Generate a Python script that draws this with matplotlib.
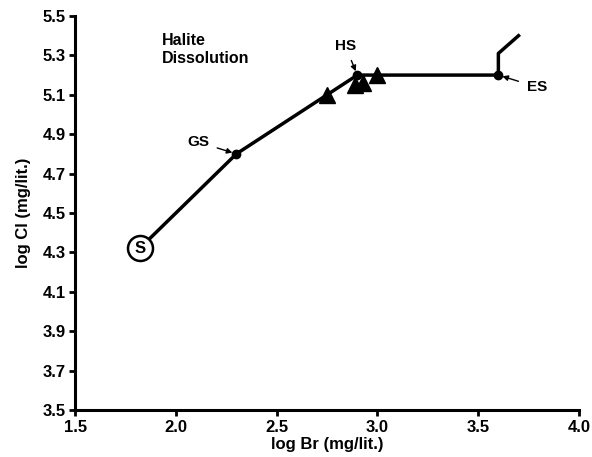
import matplotlib.pyplot as plt

plt.rcParams['font.family'] = ['Liberation Sans', 'DejaVu Sans']
plt.rcParams['font.weight'] = 'bold'
plt.rcParams['axes.labelweight'] = 'bold'

# evolution path of log Br vs log Cl
path_br = [1.82, 2.30, 2.90, 3.60, 3.60, 3.70]
path_cl = [4.32, 4.80, 5.20, 5.20, 5.31, 5.40]

# named stage points
stage_names = ['GS', 'HS', 'ES']
stage_br = [2.30, 2.90, 3.60]
stage_cl = [4.80, 5.20, 5.20]
label_br = [2.11, 2.84, 3.79]
label_cl = [4.86, 5.35, 5.14]

# samples (triangles)
sample_br = [2.75, 2.89, 2.93, 3.00]
sample_cl = [5.10, 5.15, 5.16, 5.20]

start_br, start_cl = 1.82, 4.32

xticks = [1.5, 2.0, 2.5, 3.0, 3.5, 4.0]
yticks = [3.5, 3.7, 3.9, 4.1, 4.3, 4.5, 4.7, 4.9, 5.1, 5.3, 5.5]

fig = plt.figure(figsize=(5.92, 4.57), dpi=100)
ax = fig.add_axes([0.127, 0.103, 0.851, 0.862])

ax.plot(path_br, path_cl, color='black', lw=2.5, zorder=2)
ax.plot(stage_br, stage_cl, 'o', color='black', ms=6, zorder=3)
ax.plot(sample_br, sample_cl, '^', color='black', ms=11, zorder=3)

# starting point
ax.plot([start_br], [start_cl], 'o', ms=18, mfc='white', mec='black', mew=1.8, zorder=4)
ax.text(start_br, start_cl, 'S', ha='center', va='center', fontsize=12, zorder=5)

for name, x, y, lx, ly in zip(stage_names, stage_br, stage_cl, label_br, label_cl):
    ax.annotate(name, xy=(x, y), xytext=(lx, ly), ha='center', va='center', fontsize=11,
                arrowprops=dict(arrowstyle='-|>', color='black', lw=1, shrinkA=4, shrinkB=3,
                                mutation_scale=8))

ax.text(1.93, 5.415, 'Halite\nDissolution', ha='left', va='top', fontsize=11.5, linespacing=1.3)

ax.set_xlim(1.5, 4.0)
ax.set_ylim(3.5, 5.5)
ax.set_xticks(xticks)
ax.set_yticks(yticks)
ax.set_xticklabels([f'{t:.1f}' for t in xticks], fontsize=12, fontweight='bold')
ax.set_yticklabels([f'{t:.1f}' for t in yticks], fontsize=12, fontweight='bold')
ax.tick_params(direction='out', length=4, width=2, pad=3)
for side in ['top', 'right']:
    ax.spines[side].set_visible(False)
for side in ['left', 'bottom']:
    ax.spines[side].set_linewidth(2.2)

ax.set_xlabel('log Br (mg/lit.)', fontsize=12, labelpad=2)
ax.set_ylabel('log Cl (mg/lit.)', fontsize=12, labelpad=8)

plt.savefig('out.png', dpi=100)
